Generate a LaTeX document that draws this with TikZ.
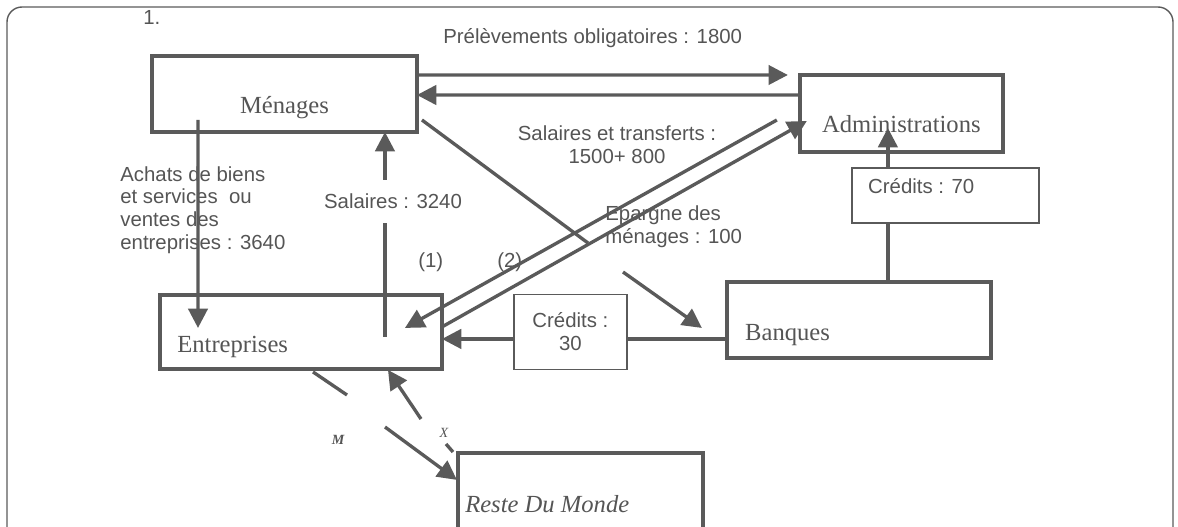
\documentclass[tikz,border=0pt]{standalone}
\usepackage{fontspec}
\setmainfont{Liberation Serif}
\setsansfont{Liberation Sans}
\usetikzlibrary{positioning}
\usetikzlibrary{arrows.meta}
\definecolor{ink}{HTML}{555555}
\definecolor{edge}{HTML}{5A5A5A}
\begin{document}
\begin{tikzpicture}[
    x = 0.02cm, y = -0.02cm,
    sector/.style = {shape = rectangle, draw = edge, line width = 1.9pt, fill = white, inner sep = 0pt, outer sep = 0pt},
    credit/.style = {shape = rectangle, draw = edge, line width = 0.8pt, fill = white, inner sep = 0pt, outer sep = 0pt},
    sname/.style = {text = ink, font = \fontsize{14}{16}\selectfont, inner sep = 0pt},
    lab/.style = {text = ink, font = \sffamily\fontsize{11.6}{13}\selectfont, inner sep = 0pt},
    flow/.style = {draw = edge, line width = 1.9pt, -{Triangle[length = 11pt, width = 11pt]}},
    link/.style = {draw = edge, line width = 1.9pt},
    ]
    \useasboundingbox (0,0) rectangle (1178,527);
    \clip (0,0) rectangle (1178,527);
    \draw[edge, line width = 0.8pt, rounded corners = 0.3cm] (7,560) |- (1173,7) -- (1173,560);

    \node[sector, minimum width = 5.3cm, minimum height = 1.52cm, anchor = north west] (Men) at (152,56) {};
    \node[sector, minimum width = 4.06cm, minimum height = 1.54cm, below right = 0.38cm and 7.66cm of Men.north east] (Adm) {};
    \node[sector, minimum width = 5.64cm, minimum height = 1.48cm, below right = 3.26cm and 0.16cm of Men.south west] (Ent) {};
    \node[sector, minimum width = 5.28cm, minimum height = 1.52cm, right = 5.7cm of Ent.east, yshift = 0.24cm] (Ban) {};
    \node[sector, minimum width = 4.9cm, minimum height = 1.54cm, below right = 1.68cm and 0.32cm of Ent.south east] (RdM) {};

    \node[sname, above = 0.36cm of Men.south, anchor = base] (Men-t) {Ménages};
    \node[sname, above = 0.38cm of Adm.south, anchor = base] (Adm-t) {Administrations};
    \node[sname, above right = 0.32cm and 0.34cm of Ent.south west, anchor = base west] (Ent-t) {Entreprises};
    \node[sname, above right = 0.34cm and 0.36cm of Ban.south west, anchor = base west] (Ban-t) {Banques};
    \node[sname, below right = 1.2cm and 0.14cm of RdM.north west, anchor = base west, font = \fontsize{14}{16}\selectfont\itshape] (RdM-t) {Reste Du Monde};

    \node[credit, lab, minimum width = 2.26cm, minimum height = 1.5cm, right = 1.44cm of Ent, align = center] (C30) {Crédits :\\30};
    \node[credit, minimum width = 3.74cm, minimum height = 1.1cm, below right = 0.32cm and 1.04cm of Adm.south west] (C70) {};
    \node[lab, below right = 0.52cm and 0.32cm of C70.north west, anchor = base west] (C70-t) {Crédits : 70};

    \node[lab, anchor = base west] (num) at (143,25) {1.};
    \node[lab, anchor = base west] (prel) at (443,44) {Prélèvements obligatoires : 1800};
    \node[lab, align = center] (saltr) at (617,144.5) {Salaires et transferts :\\1500+ 800};
    \node[lab, align = left, anchor = west] (epar) at (605,226.5) {Epargne des\\ménages : 100};
    \node[lab, align = left, anchor = west] (achat) at (120,210) {Achats de biens\\et services~ ou\\ventes des\\entreprises : 3640};
    \node[lab, inner ysep = 8pt] (sal) at (393,201.5) {Salaires : 3240};
    \node[lab, anchor = base west] (p1) at (418,268) {(1)};
    \node[lab, anchor = base west] (p2) at (497,268) {(2)};
    \node[text = ink, font = \fontsize{8}{9}\selectfont\bfseries\itshape] (m) at (338,440) {M};
    \node[text = ink, font = \fontsize{8}{9}\selectfont\itshape] (xx) at (444,433) {X};

    \coordinate (ep1) at (588,243);
    \coordinate (ep2) at (623,272);
    \coordinate (ep3) at ([shift = {(-25,8)}]Ban.west);
    \coordinate (m1) at (347,395);
    \coordinate (m2) at (385,427);
    \coordinate (x0) at (453,452);
    \coordinate (x1) at (446,444);
    \coordinate (x2) at (421,419);
    \coordinate (sal0) at ([shift = {(-57,42)}]Ent.north east);
    \coordinate (ban0) at ([shift = {(161,0)}]Ban.north west);
    \coordinate (adm0) at ([shift = {(0,53)}]Adm.north west);
    \coordinate (ban1) at ([shift = {(0,19)}]Ban.west);

    % Ménages <-> Administrations
    \draw[flow] ([shift = {(0,19)}]Men.north east) -- ([shift = {(-12,0)}]Adm.north west);
    \draw[flow] ([shift = {(0,20)}]Adm.north west) -- ([shift = {(0,39)}]Men.north east);
    % Ménages <-> Entreprises
    \draw[flow] ([shift = {(46,-12)}]Men.south west) -- ([shift = {(38,33)}]Ent.north west);
    \draw[link] (sal0) -- (sal0 |- sal.south);
    \draw[flow] (sal0 |- sal.north) -- (sal0 |- Men.south);
    % Administrations <-> Entreprises
    \draw[flow] ([shift = {(-23,45)}]Adm.north west) -- ([shift = {(-37,33)}]Ent.north east);
    \draw[flow] ([shift = {(0,32)}]Ent.north east) -- ([shift = {(7,46)}]Adm.north west);
    % Ménages -> Banques
    \draw[link] ([shift = {(5,26)}]Men.east) -- (ep1);
    \draw[flow] (ep2) -- (ep3);
    % Banques -> Entreprises, Administrations
    \draw[link] (ban1) -- (ban1 -| C30.east);
    \draw[flow] (ban1 -| C30.west) -- (ban1 -| Ent.east);
    \draw[link] (ban0) -- (ban0 |- C70.south);
    \draw[flow] (ban0 |- C70.north) -- (ban0 |- adm0);
    % Entreprises <-> Reste Du Monde
    \draw[link] ([shift = {(153,3)}]Ent.south west) -- (m1);
    \draw[flow] (m2) -- ([shift = {(-1,27)}]RdM.north west);
    \draw[link] (x0) -- (x1);
    \draw[flow] (x2) -- ([shift = {(228,1)}]Ent.south west);
\end{tikzpicture}
\end{document}
